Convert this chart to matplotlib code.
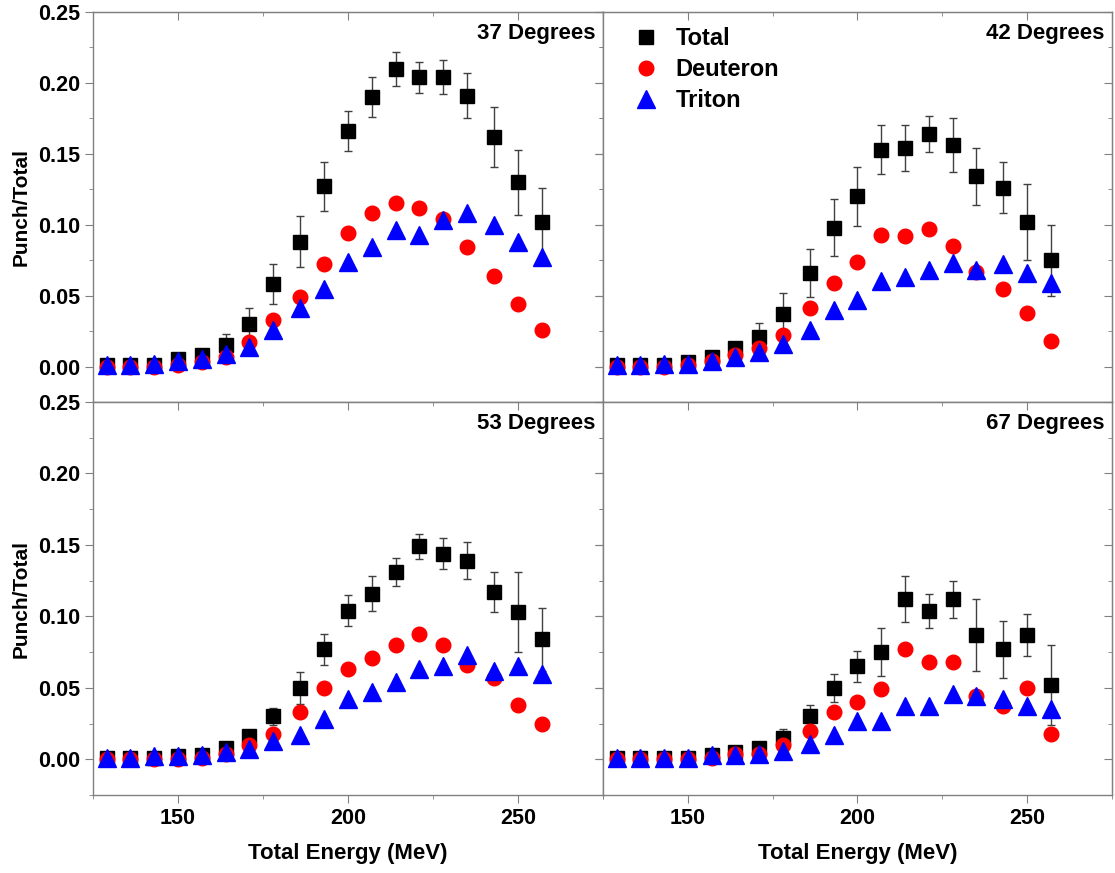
import numpy as np
import matplotlib
matplotlib.use("Agg")
import matplotlib.pyplot as plt
from matplotlib.ticker import MultipleLocator
from matplotlib.lines import Line2D

plt.rcParams['font.family'] = ['Liberation Sans', 'DejaVu Sans']
plt.rcParams['font.weight'] = 'bold'

# energy bins (MeV)
energy = [129, 136, 143, 150, 157, 164, 171, 178, 186, 193,
          200, 207, 214, 221, 228, 235, 243, 250, 257]

angles = ['37 Degrees', '42 Degrees', '53 Degrees', '67 Degrees']

total_37 = [0.001, 0.001, 0.001, 0.005, 0.008, 0.015, 0.030, 0.058, 0.088, 0.127,
            0.166, 0.190, 0.210, 0.204, 0.204, 0.191, 0.162, 0.130, 0.102]
err_37 = [0.001, 0.001, 0.001, 0.002, 0.002, 0.008, 0.011, 0.014, 0.018, 0.017,
          0.014, 0.014, 0.012, 0.011, 0.012, 0.016, 0.021, 0.023, 0.024]
deut_37 = [0.000, 0.000, 0.000, 0.001, 0.003, 0.007, 0.017, 0.033, 0.049, 0.072,
           0.094, 0.108, 0.115, 0.112, 0.104, 0.084, 0.064, 0.044, 0.026]
trit_37 = [0.001, 0.001, 0.002, 0.004, 0.005, 0.009, 0.014, 0.026, 0.041, 0.055,
           0.074, 0.084, 0.096, 0.093, 0.103, 0.108, 0.100, 0.088, 0.077]

total_42 = [0.001, 0.001, 0.001, 0.003, 0.007, 0.013, 0.021, 0.037, 0.066, 0.098,
            0.120, 0.153, 0.154, 0.164, 0.156, 0.134, 0.126, 0.102, 0.075]
err_42 = [0.001, 0.001, 0.001, 0.001, 0.002, 0.004, 0.010, 0.015, 0.017, 0.020,
          0.021, 0.017, 0.016, 0.013, 0.019, 0.020, 0.018, 0.027, 0.025]
deut_42 = [0.000, 0.000, 0.000, 0.001, 0.004, 0.008, 0.013, 0.022, 0.041, 0.059,
           0.074, 0.093, 0.092, 0.097, 0.085, 0.067, 0.055, 0.038, 0.018]
trit_42 = [0.001, 0.001, 0.002, 0.002, 0.004, 0.007, 0.010, 0.016, 0.026, 0.040,
           0.047, 0.060, 0.063, 0.068, 0.073, 0.068, 0.072, 0.066, 0.059]

total_53 = [0.001, 0.001, 0.001, 0.002, 0.003, 0.008, 0.016, 0.030, 0.050, 0.077,
            0.104, 0.116, 0.131, 0.149, 0.144, 0.139, 0.117, 0.103, 0.084]
err_53 = [0.001, 0.001, 0.001, 0.001, 0.001, 0.002, 0.003, 0.006, 0.011, 0.011,
          0.011, 0.012, 0.010, 0.009, 0.011, 0.013, 0.014, 0.028, 0.022]
deut_53 = [0.000, 0.000, 0.000, 0.000, 0.001, 0.004, 0.010, 0.018, 0.033, 0.050,
           0.063, 0.071, 0.080, 0.088, 0.080, 0.066, 0.057, 0.038, 0.025]
trit_53 = [0.001, 0.001, 0.002, 0.002, 0.003, 0.005, 0.007, 0.013, 0.017, 0.028,
           0.042, 0.047, 0.054, 0.063, 0.065, 0.073, 0.062, 0.065, 0.060]

total_67 = [0.001, 0.001, 0.001, 0.001, 0.003, 0.005, 0.008, 0.015, 0.030, 0.050,
            0.065, 0.075, 0.112, 0.104, 0.112, 0.087, 0.077, 0.087, 0.052]
err_67 = [0.001, 0.001, 0.001, 0.001, 0.001, 0.002, 0.004, 0.006, 0.008, 0.010,
          0.011, 0.017, 0.016, 0.012, 0.013, 0.025, 0.020, 0.015, 0.028]
deut_67 = [0.000, 0.000, 0.000, 0.000, 0.001, 0.004, 0.004, 0.010, 0.020, 0.033,
           0.040, 0.049, 0.077, 0.068, 0.068, 0.044, 0.037, 0.050, 0.018]
trit_67 = [0.001, 0.001, 0.001, 0.001, 0.003, 0.003, 0.004, 0.006, 0.011, 0.017,
           0.027, 0.027, 0.037, 0.037, 0.046, 0.044, 0.042, 0.037, 0.035]

totals = [total_37, total_42, total_53, total_67]
errs = [err_37, err_42, err_53, err_67]
deuts = [deut_37, deut_42, deut_53, deut_67]
trits = [trit_37, trit_42, trit_53, trit_67]

fig = plt.figure(figsize=(11.15, 8.73), dpi=100)

# panel positions [left, bottom, width, height] in figure fraction
L, M, R = 0.0834, 0.5408, 0.9973
B, C, T = 0.0893, 0.5395, 0.9863
pos = [[L, C, M - L, T - C], [M, C, R - M, T - C],
       [L, B, M - L, C - B], [M, B, R - M, C - B]]

frame = '#808080'
for i in range(4):
    ax = fig.add_axes(pos[i])
    ax.errorbar(energy, totals[i], yerr=errs[i], fmt='s', color='black',
                ms=10.5, ecolor='#404040', elinewidth=1.0, capsize=3,
                capthick=1.0, zorder=3)
    ax.plot(energy, deuts[i], 'o', color='red', ms=10.5, mec='red', zorder=4)
    ax.plot(energy, trits[i], '^', color='blue', ms=13, mec='blue', zorder=5)

    ax.set_xlim(125, 275)
    ax.set_ylim(-0.025, 0.25)
    ax.xaxis.set_major_locator(MultipleLocator(50))
    ax.xaxis.set_minor_locator(MultipleLocator(25))
    ax.yaxis.set_major_locator(MultipleLocator(0.05))
    ax.yaxis.set_minor_locator(MultipleLocator(0.025))
    ax.tick_params(which='both', direction='out', color=frame, labelsize=15.5)
    ax.tick_params(which='major', length=6)
    ax.tick_params(which='minor', length=3)
    for sp in ax.spines.values():
        sp.set_color(frame)
        sp.set_linewidth(1.0)

    # inward ticks on top and right
    top = ax.secondary_xaxis('top')
    top.xaxis.set_major_locator(MultipleLocator(50))
    top.xaxis.set_minor_locator(MultipleLocator(25))
    top.tick_params(which='both', direction='in', color=frame, labeltop=False)
    top.tick_params(which='major', length=6)
    top.tick_params(which='minor', length=3)
    top.spines['top'].set_color(frame)
    right = ax.secondary_yaxis('right')
    right.yaxis.set_major_locator(MultipleLocator(0.05))
    right.yaxis.set_minor_locator(MultipleLocator(0.025))
    right.tick_params(which='both', direction='in', color=frame, labelright=False)
    right.tick_params(which='major', length=6)
    right.tick_params(which='minor', length=3)
    right.spines['right'].set_color(frame)

    if i % 2 == 0:
        ax.yaxis.set_major_formatter(plt.FormatStrFormatter('%.2f'))
        ax.set_ylabel('Punch/Total', fontsize=15, fontweight='bold', labelpad=5)
    else:
        ax.tick_params(labelleft=False)
    if i < 2:
        ax.tick_params(labelbottom=False)
    else:
        ax.set_xlabel('Total Energy (MeV)', fontsize=16, fontweight='bold', labelpad=10)

    ax.text(0.985, 0.945, angles[i], transform=ax.transAxes, ha='right',
            va='center', fontsize=16, fontweight='bold')

    if i == 1:
        h = [Line2D([], [], ls='none', marker='s', color='black', ms=10.5),
             Line2D([], [], ls='none', marker='o', color='red', ms=10.5),
             Line2D([], [], ls='none', marker='^', color='blue', ms=13)]
        ax.legend(h, ['Total', 'Deuteron', 'Triton'], loc='upper left',
                  bbox_to_anchor=(0.015, 1.015), frameon=False, fontsize=17,
                  handletextpad=0.65, labelspacing=0.33, handlelength=1.2)

fig.savefig('out.png', dpi=100)
